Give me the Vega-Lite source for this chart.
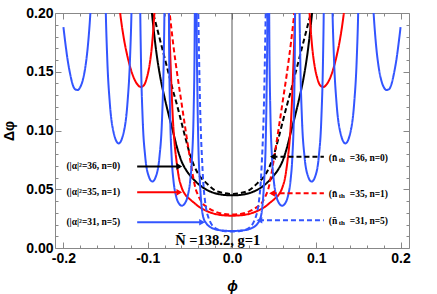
{
"$schema":"https://vega.github.io/schema/vega-lite/v6.json",
"autosize":"none",
"width":354,"height":235,
"padding":{"left":55,"top":13,"right":28,"bottom":46},
"background":"white",
"config":{"view":{"stroke":"#888","strokeWidth":1}},
"datasets":{
"curves":[
{"c":"bs","x":-0.097,"y":0.215},{"c":"bs","x":-0.094,"y":0.193},{"c":"bs","x":-0.09,"y":0.168},{"c":"bs","x":-0.085,"y":0.145},{"c":"bs","x":-0.08,"y":0.128},{"c":"bs","x":-0.075,"y":0.113},{"c":"bs","x":-0.07,"y":0.099},{"c":"bs","x":-0.065,"y":0.085},{"c":"bs","x":-0.06,"y":0.074},{"c":"bs","x":-0.055,"y":0.067},{"c":"bs","x":-0.05,"y":0.062},{"c":"bs","x":-0.04,"y":0.0545},{"c":"bs","x":-0.03,"y":0.0495},{"c":"bs","x":-0.02,"y":0.0466},{"c":"bs","x":-0.01,"y":0.0452},{"c":"bs","x":0,"y":0.0448},
{"c":"bs","x":0.01,"y":0.0452},{"c":"bs","x":0.02,"y":0.0466},{"c":"bs","x":0.03,"y":0.0495},{"c":"bs","x":0.04,"y":0.0545},{"c":"bs","x":0.05,"y":0.062},{"c":"bs","x":0.055,"y":0.067},{"c":"bs","x":0.06,"y":0.074},{"c":"bs","x":0.065,"y":0.085},{"c":"bs","x":0.07,"y":0.099},{"c":"bs","x":0.075,"y":0.113},{"c":"bs","x":0.08,"y":0.128},{"c":"bs","x":0.085,"y":0.145},{"c":"bs","x":0.09,"y":0.168},{"c":"bs","x":0.094,"y":0.193},{"c":"bs","x":0.097,"y":0.215},
{"c":"bd","x":-0.098,"y":0.212},{"c":"bd","x":-0.094,"y":0.201},{"c":"bd","x":-0.09,"y":0.19},{"c":"bd","x":-0.085,"y":0.176},{"c":"bd","x":-0.08,"y":0.162},{"c":"bd","x":-0.075,"y":0.148},{"c":"bd","x":-0.07,"y":0.134},{"c":"bd","x":-0.065,"y":0.121},{"c":"bd","x":-0.06,"y":0.107},{"c":"bd","x":-0.055,"y":0.093},{"c":"bd","x":-0.05,"y":0.08},{"c":"bd","x":-0.045,"y":0.07},{"c":"bd","x":-0.04,"y":0.063},{"c":"bd","x":-0.03,"y":0.055},{"c":"bd","x":-0.02,"y":0.049},{"c":"bd","x":-0.01,"y":0.0468},{"c":"bd","x":0,"y":0.046},
{"c":"bd","x":0.01,"y":0.0468},{"c":"bd","x":0.02,"y":0.049},{"c":"bd","x":0.03,"y":0.055},{"c":"bd","x":0.04,"y":0.063},{"c":"bd","x":0.045,"y":0.07},{"c":"bd","x":0.05,"y":0.08},{"c":"bd","x":0.055,"y":0.093},{"c":"bd","x":0.06,"y":0.107},{"c":"bd","x":0.065,"y":0.121},{"c":"bd","x":0.07,"y":0.134},{"c":"bd","x":0.075,"y":0.148},{"c":"bd","x":0.08,"y":0.162},{"c":"bd","x":0.085,"y":0.176},{"c":"bd","x":0.09,"y":0.19},{"c":"bd","x":0.094,"y":0.201},{"c":"bd","x":0.098,"y":0.212},
{"c":"rs","x":-0.14,"y":0.3},{"c":"rs","x":-0.137,"y":0.23},{"c":"rs","x":-0.134,"y":0.208},{"c":"rs","x":-0.132,"y":0.196},{"c":"rs","x":-0.128,"y":0.177},{"c":"rs","x":-0.124,"y":0.163},{"c":"rs","x":-0.12,"y":0.152},{"c":"rs","x":-0.116,"y":0.144},{"c":"rs","x":-0.112,"y":0.139},{"c":"rs","x":-0.108,"y":0.137},{"c":"rs","x":-0.104,"y":0.139},{"c":"rs","x":-0.101,"y":0.145},{"c":"rs","x":-0.098,"y":0.155},{"c":"rs","x":-0.095,"y":0.172},{"c":"rs","x":-0.093,"y":0.19},{"c":"rs","x":-0.091,"y":0.215},{"c":"rs","x":-0.088,"y":0.3},{"c":"rs","x":-0.078,"y":0.3},{"c":"rs","x":-0.0755,"y":0.215},{"c":"rs","x":-0.074,"y":0.18},{"c":"rs","x":-0.072,"y":0.14},{"c":"rs","x":-0.07,"y":0.108},{"c":"rs","x":-0.068,"y":0.088},{"c":"rs","x":-0.066,"y":0.075},{"c":"rs","x":-0.063,"y":0.06},{"c":"rs","x":-0.06,"y":0.052},{"c":"rs","x":-0.055,"y":0.045},{"c":"rs","x":-0.05,"y":0.0415},{"c":"rs","x":-0.045,"y":0.0385},{"c":"rs","x":-0.04,"y":0.0355},{"c":"rs","x":-0.03,"y":0.0315},{"c":"rs","x":-0.02,"y":0.029},{"c":"rs","x":-0.01,"y":0.0278},{"c":"rs","x":0,"y":0.0275},
{"c":"rs","x":0.01,"y":0.0278},{"c":"rs","x":0.02,"y":0.029},{"c":"rs","x":0.03,"y":0.0315},{"c":"rs","x":0.04,"y":0.0355},{"c":"rs","x":0.045,"y":0.0385},{"c":"rs","x":0.05,"y":0.0415},{"c":"rs","x":0.055,"y":0.045},{"c":"rs","x":0.06,"y":0.052},{"c":"rs","x":0.063,"y":0.06},{"c":"rs","x":0.066,"y":0.075},{"c":"rs","x":0.068,"y":0.088},{"c":"rs","x":0.07,"y":0.108},{"c":"rs","x":0.072,"y":0.14},{"c":"rs","x":0.074,"y":0.18},{"c":"rs","x":0.0755,"y":0.215},{"c":"rs","x":0.078,"y":0.3},{"c":"rs","x":0.088,"y":0.3},{"c":"rs","x":0.091,"y":0.215},{"c":"rs","x":0.093,"y":0.19},{"c":"rs","x":0.095,"y":0.172},{"c":"rs","x":0.098,"y":0.155},{"c":"rs","x":0.101,"y":0.145},{"c":"rs","x":0.104,"y":0.139},{"c":"rs","x":0.108,"y":0.137},{"c":"rs","x":0.112,"y":0.139},{"c":"rs","x":0.116,"y":0.144},{"c":"rs","x":0.12,"y":0.152},{"c":"rs","x":0.124,"y":0.163},{"c":"rs","x":0.128,"y":0.177},{"c":"rs","x":0.132,"y":0.196},{"c":"rs","x":0.134,"y":0.208},{"c":"rs","x":0.137,"y":0.23},{"c":"rs","x":0.14,"y":0.3},
{"c":"rd","x":-0.078,"y":0.225},{"c":"rd","x":-0.074,"y":0.2},{"c":"rd","x":-0.07,"y":0.175},{"c":"rd","x":-0.065,"y":0.148},{"c":"rd","x":-0.06,"y":0.124},{"c":"rd","x":-0.055,"y":0.1},{"c":"rd","x":-0.05,"y":0.077},{"c":"rd","x":-0.046,"y":0.06},{"c":"rd","x":-0.043,"y":0.05},{"c":"rd","x":-0.04,"y":0.0445},{"c":"rd","x":-0.035,"y":0.038},{"c":"rd","x":-0.03,"y":0.035},{"c":"rd","x":-0.02,"y":0.031},{"c":"rd","x":-0.01,"y":0.029},{"c":"rd","x":0,"y":0.0285},
{"c":"rd","x":0.01,"y":0.029},{"c":"rd","x":0.02,"y":0.031},{"c":"rd","x":0.03,"y":0.035},{"c":"rd","x":0.035,"y":0.038},{"c":"rd","x":0.04,"y":0.0445},{"c":"rd","x":0.043,"y":0.05},{"c":"rd","x":0.046,"y":0.06},{"c":"rd","x":0.05,"y":0.077},{"c":"rd","x":0.055,"y":0.1},{"c":"rd","x":0.06,"y":0.124},{"c":"rd","x":0.065,"y":0.148},{"c":"rd","x":0.07,"y":0.175},{"c":"rd","x":0.074,"y":0.2},{"c":"rd","x":0.078,"y":0.225},
{"c":"us","x":-0.2,"y":0.188},{"c":"us","x":-0.198,"y":0.176},{"c":"us","x":-0.195,"y":0.16},{"c":"us","x":-0.192,"y":0.148},{"c":"us","x":-0.189,"y":0.139},{"c":"us","x":-0.186,"y":0.135},{"c":"us","x":-0.183,"y":0.1345},{"c":"us","x":-0.18,"y":0.137},{"c":"us","x":-0.177,"y":0.143},{"c":"us","x":-0.174,"y":0.154},{"c":"us","x":-0.171,"y":0.172},{"c":"us","x":-0.168,"y":0.2},{"c":"us","x":-0.165,"y":0.24},{"c":"us","x":-0.162,"y":0.3},
{"c":"us","x":-0.152,"y":0.309},{"c":"us","x":-0.15,"y":0.21},{"c":"us","x":-0.148,"y":0.161},{"c":"us","x":-0.145,"y":0.1236},{"c":"us","x":-0.141,"y":0.1001},{"c":"us","x":-0.1345,"y":0.089},{"c":"us","x":-0.128,"y":0.1001},{"c":"us","x":-0.124,"y":0.1236},{"c":"us","x":-0.121,"y":0.161},{"c":"us","x":-0.119,"y":0.21},{"c":"us","x":-0.117,"y":0.309},
{"c":"us","x":-0.11,"y":0.3165},{"c":"us","x":-0.109,"y":0.212},{"c":"us","x":-0.108,"y":0.161},{"c":"us","x":-0.106,"y":0.11},{"c":"us","x":-0.103,"y":0.078},{"c":"us","x":-0.099,"y":0.0615},{"c":"us","x":-0.0945,"y":0.0565},{"c":"us","x":-0.09,"y":0.0615},{"c":"us","x":-0.086,"y":0.078},{"c":"us","x":-0.083,"y":0.11},{"c":"us","x":-0.081,"y":0.161},{"c":"us","x":-0.08,"y":0.212},{"c":"us","x":-0.079,"y":0.3165},
{"c":"us","x":-0.0755,"y":0.268},{"c":"us","x":-0.0745,"y":0.162},{"c":"us","x":-0.0735,"y":0.1165},{"c":"us","x":-0.0715,"y":0.076},{"c":"us","x":-0.0695,"y":0.0578},{"c":"us","x":-0.0665,"y":0.0445},{"c":"us","x":-0.0635,"y":0.0385},{"c":"us","x":-0.0595,"y":0.036},{"c":"us","x":-0.0555,"y":0.0385},{"c":"us","x":-0.0525,"y":0.0445},{"c":"us","x":-0.0495,"y":0.0578},{"c":"us","x":-0.0475,"y":0.076},{"c":"us","x":-0.0455,"y":0.1165},{"c":"us","x":-0.0445,"y":0.162},{"c":"us","x":-0.0435,"y":0.268},
{"c":"us","x":-0.0425,"y":0.3},{"c":"us","x":-0.042,"y":0.2},{"c":"us","x":-0.041,"y":0.13},{"c":"us","x":-0.04,"y":0.09},{"c":"us","x":-0.038,"y":0.055},{"c":"us","x":-0.036,"y":0.035},{"c":"us","x":-0.034,"y":0.026},{"c":"us","x":-0.03,"y":0.0205},{"c":"us","x":-0.025,"y":0.0175},{"c":"us","x":-0.02,"y":0.016},{"c":"us","x":-0.01,"y":0.0148},{"c":"us","x":0,"y":0.0145},
{"c":"us","x":0.01,"y":0.0148},{"c":"us","x":0.02,"y":0.016},{"c":"us","x":0.025,"y":0.0175},{"c":"us","x":0.03,"y":0.0205},{"c":"us","x":0.034,"y":0.026},{"c":"us","x":0.036,"y":0.035},{"c":"us","x":0.038,"y":0.055},{"c":"us","x":0.04,"y":0.09},{"c":"us","x":0.041,"y":0.13},{"c":"us","x":0.042,"y":0.2},{"c":"us","x":0.0425,"y":0.3},
{"c":"us","x":0.0435,"y":0.268},{"c":"us","x":0.0445,"y":0.162},{"c":"us","x":0.0455,"y":0.1165},{"c":"us","x":0.0475,"y":0.076},{"c":"us","x":0.0495,"y":0.0578},{"c":"us","x":0.0525,"y":0.0445},{"c":"us","x":0.0555,"y":0.0385},{"c":"us","x":0.0595,"y":0.036},{"c":"us","x":0.0635,"y":0.0385},{"c":"us","x":0.0665,"y":0.0445},{"c":"us","x":0.0695,"y":0.0578},{"c":"us","x":0.0715,"y":0.076},{"c":"us","x":0.0735,"y":0.1165},{"c":"us","x":0.0745,"y":0.162},{"c":"us","x":0.0755,"y":0.268},
{"c":"us","x":0.079,"y":0.3165},{"c":"us","x":0.08,"y":0.212},{"c":"us","x":0.081,"y":0.161},{"c":"us","x":0.083,"y":0.11},{"c":"us","x":0.086,"y":0.078},{"c":"us","x":0.09,"y":0.0615},{"c":"us","x":0.0945,"y":0.0565},{"c":"us","x":0.099,"y":0.0615},{"c":"us","x":0.103,"y":0.078},{"c":"us","x":0.106,"y":0.11},{"c":"us","x":0.108,"y":0.161},{"c":"us","x":0.109,"y":0.212},{"c":"us","x":0.11,"y":0.3165},
{"c":"us","x":0.117,"y":0.309},{"c":"us","x":0.119,"y":0.21},{"c":"us","x":0.121,"y":0.161},{"c":"us","x":0.124,"y":0.1236},{"c":"us","x":0.128,"y":0.1001},{"c":"us","x":0.1345,"y":0.089},{"c":"us","x":0.141,"y":0.1001},{"c":"us","x":0.145,"y":0.1236},{"c":"us","x":0.148,"y":0.161},{"c":"us","x":0.15,"y":0.21},{"c":"us","x":0.152,"y":0.309},
{"c":"us","x":0.162,"y":0.3},{"c":"us","x":0.165,"y":0.24},{"c":"us","x":0.168,"y":0.2},{"c":"us","x":0.171,"y":0.172},{"c":"us","x":0.174,"y":0.154},{"c":"us","x":0.177,"y":0.143},{"c":"us","x":0.18,"y":0.137},{"c":"us","x":0.183,"y":0.1345},{"c":"us","x":0.186,"y":0.135},{"c":"us","x":0.189,"y":0.139},{"c":"us","x":0.192,"y":0.148},{"c":"us","x":0.195,"y":0.16},{"c":"us","x":0.198,"y":0.176},{"c":"us","x":0.2,"y":0.188},
{"c":"ud","x":-0.041,"y":0.24},{"c":"ud","x":-0.04,"y":0.2},{"c":"ud","x":-0.039,"y":0.16},{"c":"ud","x":-0.038,"y":0.125},{"c":"ud","x":-0.037,"y":0.1},{"c":"ud","x":-0.0355,"y":0.075},{"c":"ud","x":-0.034,"y":0.055},{"c":"ud","x":-0.032,"y":0.04},{"c":"ud","x":-0.03,"y":0.031},{"c":"ud","x":-0.028,"y":0.026},{"c":"ud","x":-0.025,"y":0.021},{"c":"ud","x":-0.02,"y":0.017},{"c":"ud","x":-0.01,"y":0.0145},{"c":"ud","x":0,"y":0.014},
{"c":"ud","x":0.01,"y":0.0145},{"c":"ud","x":0.02,"y":0.017},{"c":"ud","x":0.025,"y":0.021},{"c":"ud","x":0.028,"y":0.026},{"c":"ud","x":0.03,"y":0.031},{"c":"ud","x":0.032,"y":0.04},{"c":"ud","x":0.034,"y":0.055},{"c":"ud","x":0.0355,"y":0.075},{"c":"ud","x":0.037,"y":0.1},{"c":"ud","x":0.038,"y":0.125},{"c":"ud","x":0.039,"y":0.16},{"c":"ud","x":0.04,"y":0.2},{"c":"ud","x":0.041,"y":0.24}
],
"arrows":[
{"c":"bs","x":-0.1125,"x2":-0.062,"y":0.0694},
{"c":"rs","x":-0.1125,"x2":-0.062,"y":0.0474},
{"c":"us","x":-0.1125,"x2":-0.035,"y":0.0219},
{"c":"bd","x":0.048,"x2":0.109,"y":0.0777},
{"c":"rd","x":0.047,"x2":0.109,"y":0.0465},
{"c":"ud","x":0.032,"x2":0.109,"y":0.0236}
],
"heads":[
{"c":"bs","x":-0.0625,"y":0.0694,"d":"r"},
{"c":"rs","x":-0.0625,"y":0.0474,"d":"r"},
{"c":"us","x":-0.0355,"y":0.0219,"d":"r"},
{"c":"bd","x":0.0485,"y":0.0777,"d":"l"},
{"c":"rd","x":0.0475,"y":0.0465,"d":"l"},
{"c":"ud","x":0.0325,"y":0.0236,"d":"l"}
],
"leftlab":[
{"x":-0.1965,"y":0.0694,"t":"(|α|²=36, n=0)"},
{"x":-0.1965,"y":0.0474,"t":"(|α|²=35, n=1)"},
{"x":-0.1965,"y":0.0219,"t":"(|α|²=31, n=5)"}
],
"rightlab":[
{"x":0.1148,"y":0.0763,"t":"=36, n=0)"},
{"x":0.1148,"y":0.0457,"t":"=35, n=1)"},
{"x":0.1148,"y":0.023,"t":"=31, n=5)"}
]
},
"resolve":{"axis":{"x":"independent","y":"independent"}},
"layer":[
{
"data":{"values":[{"x":0}]},
"mark":{"type":"rule","color":"#555","strokeWidth":1},
"encoding":{
"x":{"field":"x","type":"quantitative","scale":{"domain":[-0.21,0.21],"nice":false,"zero":false},
"axis":{"orient":"top","labels":false,"domain":false,"grid":false,"title":null,"tickColor":"#888",
"values":[-0.2,-0.18,-0.16,-0.14,-0.12,-0.1,-0.08,-0.06,-0.04,-0.02,0,0.02,0.04,0.06,0.08,0.1,0.12,0.14,0.16,0.18,0.2],
"tickSize":{"condition":{"test":"abs(datum.value*10-round(datum.value*10))<0.001","value":-6},"value":-3}}},
"y":{"datum":0,"type":"quantitative","scale":{"domain":[0,0.2],"nice":false},
"axis":{"orient":"right","labels":false,"domain":false,"grid":false,"title":null,"tickColor":"#888",
"values":[0,0.01,0.02,0.03,0.04,0.05,0.06,0.07,0.08,0.09,0.1,0.11,0.12,0.13,0.14,0.15,0.16,0.17,0.18,0.19,0.2],
"tickSize":{"condition":{"test":"abs(datum.value*20-round(datum.value*20))<0.001","value":-6},"value":-3}}},
"y2":{"datum":0.2}
}
},
{
"data":{"name":"curves"},
"mark":{"type":"line","clip":true,"strokeWidth":2,"interpolate":"monotone"},
"encoding":{
"x":{"field":"x","type":"quantitative",
"axis":{"orient":"bottom","domain":false,"grid":false,"title":"ϕ","tickColor":"#888",
"values":[-0.2,-0.18,-0.16,-0.14,-0.12,-0.1,-0.08,-0.06,-0.04,-0.02,0,0.02,0.04,0.06,0.08,0.1,0.12,0.14,0.16,0.18,0.2],
"tickSize":{"condition":{"test":"abs(datum.value*10-round(datum.value*10))<0.001","value":-6},"value":-3},
"labelExpr":"abs(datum.value*10-round(datum.value*10))<0.001 ? (datum.value < -0.0001 ? '-' : '') + format(abs(datum.value),'.1f') : ''",
"labelFont":"Liberation Sans","labelFontWeight":"bold","labelFontSize":14,"labelColor":"black","labelPadding":9,
"titleFont":"Liberation Sans","titleFontWeight":"bold","titleFontStyle":"italic","titleFontSize":14,"titleColor":"black","titlePadding":14}},
"y":{"field":"y","type":"quantitative",
"axis":{"orient":"left","domain":false,"grid":false,"title":"Δφ","tickColor":"#888",
"values":[0,0.01,0.02,0.03,0.04,0.05,0.06,0.07,0.08,0.09,0.1,0.11,0.12,0.13,0.14,0.15,0.16,0.17,0.18,0.19,0.2],
"tickSize":{"condition":{"test":"abs(datum.value*20-round(datum.value*20))<0.001","value":-6},"value":-3},
"labelExpr":"abs(datum.value*20-round(datum.value*20))<0.001 ? format(datum.value,'.2f') : ''",
"labelFont":"Liberation Sans","labelFontWeight":"bold","labelFontSize":14,"labelColor":"black","labelPadding":8,
"titleFont":"Liberation Sans","titleFontWeight":"bold","titleFontSize":14,"titleColor":"black","titlePadding":9}},
"color":{"field":"c","type":"nominal","legend":null,"scale":{"domain":["bs","bd","rs","rd","us","ud"],"range":["black","black","#ff0000","#ff0000","#3355ff","#3355ff"]}},
"strokeDash":{"field":"c","type":"nominal","legend":null,"scale":{"domain":["bs","bd","rs","rd","us","ud"],"range":[[1,0],[5,3],[1,0],[5,3],[1,0],[5,3]]}},
"detail":{"field":"c"}
}
},
{
"data":{"name":"arrows"},
"mark":{"type":"rule","strokeWidth":2},
"encoding":{
"x":{"field":"x","type":"quantitative","axis":null},
"x2":{"field":"x2"},
"y":{"field":"y","type":"quantitative","axis":null},
"color":{"field":"c","type":"nominal","legend":null,"scale":{"domain":["bs","bd","rs","rd","us","ud"],"range":["black","black","#ff0000","#ff0000","#3355ff","#3355ff"]}},
"strokeDash":{"field":"c","type":"nominal","legend":null,"scale":{"domain":["bs","bd","rs","rd","us","ud"],"range":[[1,0],[5,3],[1,0],[5,3],[1,0],[5,3]]}}
}
},
{
"data":{"name":"heads"},
"mark":{"type":"point","filled":true,"size":45,"opacity":1},
"encoding":{
"x":{"field":"x","type":"quantitative","axis":null},
"y":{"field":"y","type":"quantitative","axis":null},
"shape":{"field":"d","type":"nominal","legend":null,"scale":{"domain":["l","r"],"range":["triangle-left","triangle-right"]}},
"color":{"field":"c","type":"nominal","legend":null,"scale":{"domain":["bs","bd","rs","rd","us","ud"],"range":["black","black","#ff0000","#ff0000","#3355ff","#3355ff"]}}
}
},
{
"data":{"name":"leftlab"},
"mark":{"type":"text","align":"left","baseline":"middle","font":"Liberation Serif","fontWeight":"bold","fontSize":9.5,"color":"black"},
"encoding":{
"x":{"field":"x","type":"quantitative","axis":null},
"y":{"field":"y","type":"quantitative","axis":null},
"text":{"field":"t"}
}
},
{
"data":{"name":"rightlab"},
"mark":{"type":"text","align":"left","baseline":"middle","font":"Liberation Serif","fontWeight":"bold","fontSize":9.5,"color":"black","text":"(n̄"},
"encoding":{
"x":{"field":"x","type":"quantitative","axis":null},
"y":{"field":"y","type":"quantitative","axis":null}
}
},
{
"data":{"name":"rightlab"},
"mark":{"type":"text","align":"left","baseline":"middle","font":"Liberation Serif","fontWeight":"bold","fontSize":7,"color":"black","text":"th","dx":10,"dy":2},
"encoding":{
"x":{"field":"x","type":"quantitative","axis":null},
"y":{"field":"y","type":"quantitative","axis":null}
}
},
{
"data":{"name":"rightlab"},
"mark":{"type":"text","align":"left","baseline":"middle","font":"Liberation Serif","fontWeight":"bold","fontSize":9.5,"color":"black","dx":21},
"encoding":{
"x":{"field":"x","type":"quantitative","axis":null},
"y":{"field":"y","type":"quantitative","axis":null},
"text":{"field":"t"}
}
},
{
"data":{"values":[{"x":-0.017,"y":0.0062,"t":"N̄ =138.2, g=1"}]},
"mark":{"type":"text","align":"center","baseline":"middle","font":"Liberation Serif","fontWeight":"bold","fontSize":14.5,"color":"black"},
"encoding":{
"x":{"field":"x","type":"quantitative","axis":null},
"y":{"field":"y","type":"quantitative","axis":null},
"text":{"field":"t"}
}
}
]
}
